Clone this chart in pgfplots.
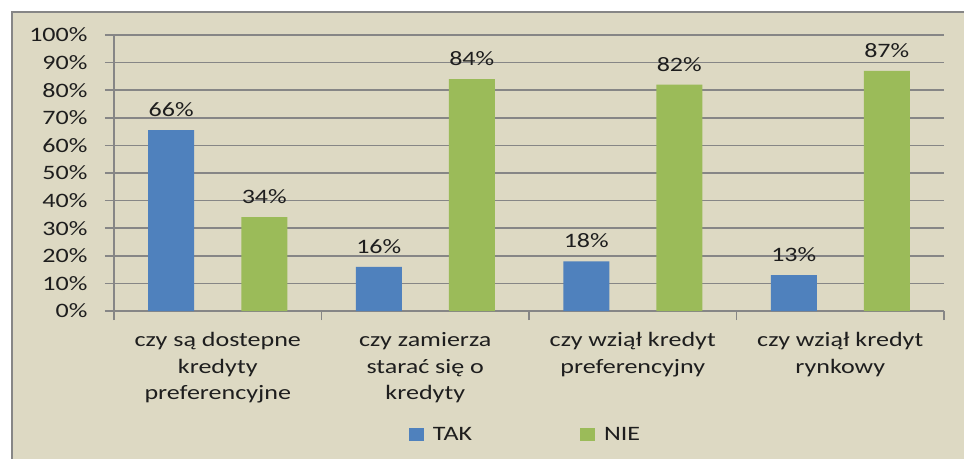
\documentclass[border=0pt]{standalone}
\usepackage{fontspec}
\setmainfont{Carlito}[FakeStretch=1.27]
\usepackage{pgfplots}
\pgfplotsset{compat=1.18}
\definecolor{bg}{HTML}{DDD9C3}
\definecolor{gridc}{HTML}{868686}
\definecolor{tak}{HTML}{4F81BD}
\definecolor{nie}{HTML}{9BBB59}
\definecolor{txt}{HTML}{1E1E1E}
\newcommand{\lf}{\fontsize{20.5bp}{26.5bp}\selectfont}
\begin{document}
\begin{tikzpicture}
\useasboundingbox (-114bp,-148bp) rectangle (850bp,311bp);
\fill[white] (-114bp,-148bp) rectangle (850bp,311bp);
\fill[bg] (-102bp,-150bp) rectangle (852bp,299bp);
\draw[gridc, line width=2.5bp] (-102bp,-150bp) -- (-102bp,299bp) -- (852bp,299bp);
\begin{axis}[
  at={(0,0)}, anchor=south west,
  scale only axis, width=830bp, height=276bp,
  xmin=-0.5, xmax=3.5, ymin=0, ymax=100,
  axis lines*=left,
  axis line style={gridc, line width=1.5bp},
  ymajorgrids, grid style={gridc, line width=1.5bp},
  tick style={gridc, line width=1.5bp},
  tick align=outside, major tick length=9bp,
  ytick={0,10,...,100},
  yticklabel={\pgfmathprintnumber{\tick}\%},
  yticklabel style={xshift=-14bp},
  /pgf/number format/assume math mode=true,
  xtick={-0.5,0.5,1.5,2.5,3.5}, xticklabels={},
  extra x ticks={0,1,2,3},
  extra x tick labels={czy są dostepne\\kredyty\\preferencyjne, czy zamierza\\starać się o\\kredyty, czy wziął kredyt\\preferencyjny, czy wziął kredyt\\rynkowy},
  extra x tick style={major tick length=0pt, tick label style={align=center, anchor=north, yshift=-18bp}},
  ticklabel style={font=\lf, text=txt},
  ybar, bar width=46bp,
  nodes near coords, point meta=explicit symbolic,
  nodes near coords style={anchor=south, inner sep=0pt, yshift=13bp, font=\lf, text=txt},
  legend columns=2,
  legend style={at={(0.4946,-0.449)}, anchor=center, draw=none, fill=none, font=\lf, text=txt,
    nodes={inner sep=0pt},
    /tikz/every odd column/.append style={column sep=9bp},
    /tikz/every even column/.append style={column sep=108bp}},
  clip=false,
]
\addplot[fill=tak, draw=none, bar shift=-46.5bp, legend image code/.code={\fill[tak] (0bp,-6.5bp) rectangle (15bp,6.5bp);}]
  coordinates {(0,65.5) [66\%] (1,16) [16\%] (2,18) [18\%] (3,13) [13\%]};
\addplot[fill=nie, draw=none, bar shift=46.5bp, legend image code/.code={\fill[nie] (0bp,-6.5bp) rectangle (15bp,6.5bp);}]
  coordinates {(0,34) [34\%] (1,84) [84\%] (2,82) [82\%] (3,87) [87\%]};
\legend{TAK, NIE}
\end{axis}
\end{tikzpicture}
\end{document}
